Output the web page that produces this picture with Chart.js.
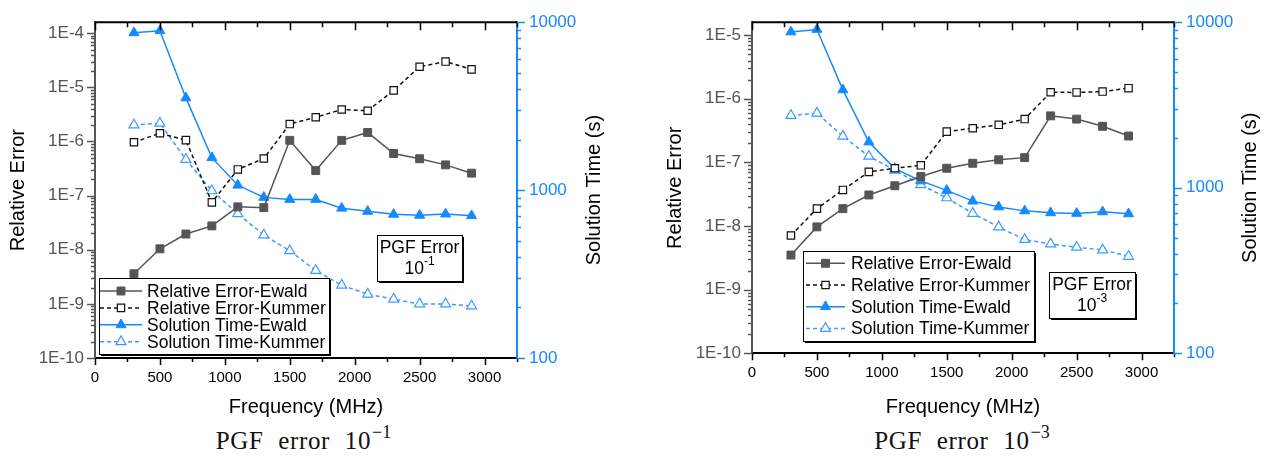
<!DOCTYPE html>
<html>
<head>
<meta charset="utf-8">
<script src="https://cdn.jsdelivr.net/npm/chart.js@4.4.1/dist/chart.umd.min.js"></script>
<style>
  body { margin: 0; background: #fff; width: 1264px; height: 462px; overflow: hidden; position: relative; }
  canvas { position: absolute; top: 0; }
  .cap { position: absolute; top: 425px; text-align: center; font-family: "Liberation Serif", serif; font-size: 25px; line-height: 1; color: #111; letter-spacing: 0.6px; word-spacing: 8px; }
  .cap sup { font-size: 18px; position: relative; top: -2px; margin-left: 1px; letter-spacing: 0; }
</style>
</head>
<body>
<canvas id="c1" width="632" height="420" style="left:0"></canvas>
<canvas id="c2" width="632" height="420" style="left:632px"></canvas>
<div class="cap" style="left:0;width:607px">PGF error 10<sup>−1</sup></div>
<div class="cap" style="left:672px;width:580px">PGF error 10<sup>−3</sup></div>
<script>
var freq = [300, 500, 700, 900, 1100, 1300, 1500, 1700, 1900, 2100, 2300, 2500, 2700, 2900];
var xTicks = [0, 500, 1000, 1500, 2000, 2500, 3000];

// PGF error 1e-1
var reEwald1  = [3.6e-9, 1.04e-8, 1.95e-8, 2.76e-8, 6.2e-8, 6.0e-8, 1.05e-6, 2.9e-7, 1.05e-6, 1.47e-6, 6.0e-7, 4.8e-7, 3.7e-7, 2.6e-7];
var reKummer1 = [9.7e-7, 1.42e-6, 1.06e-6, 7.5e-8, 3.05e-7, 4.85e-7, 2.1e-6, 2.8e-6, 3.9e-6, 3.7e-6, 8.8e-6, 2.4e-5, 3.0e-5, 2.15e-5];
var stEwald1  = [8650, 8900, 3540, 1560, 1070, 905, 880, 880, 780, 747, 717, 708, 720, 704];
var stKummer1 = [2440, 2500, 1520, 990, 723, 540, 435, 332, 271, 240, 224, 210, 210, 204];

// PGF error 1e-3
var reEwald3  = [3.5e-9, 9.7e-9, 1.88e-8, 3.08e-8, 4.3e-8, 6.0e-8, 8.1e-8, 9.7e-8, 1.1e-7, 1.19e-7, 5.4e-7, 4.8e-7, 3.7e-7, 2.6e-7];
var reKummer3 = [7.1e-9, 1.88e-8, 3.7e-8, 7.1e-8, 8.1e-8, 9.0e-8, 3.05e-7, 3.45e-7, 3.9e-7, 4.8e-7, 1.27e-6, 1.26e-6, 1.3e-6, 1.47e-6];
var stEwald3  = [8730, 9040, 3900, 1890, 1306, 1100, 964, 830, 766, 725, 706, 700, 715, 696];
var stKummer3 = [2730, 2820, 2050, 1550, 1277, 1042, 869, 700, 579, 487, 457, 437, 421, 385];

var labels = ['Relative Error-Ewald', 'Relative Error-Kummer', 'Solution Time-Ewald', 'Solution Time-Kummer'];

var FONT = '"Liberation Sans", Arial, sans-serif';
var GRAY = '#555555';
var BLUE = '#1589ff';
var LBLUE = '#3d9bff';

Chart.defaults.font.family = FONT;

var pts = function(vals) {
  return freq.map(function(f, i) { return {x: f, y: vals[i]}; });
};

var drawMarker = function(ctx, style, x, y, r, fill, stroke, lw) {
  ctx.beginPath();
  if (style === 'rect') {
    var s = r * Math.SQRT2;
    ctx.rect(x - s / 2, y - s / 2, s, s);
  } else {
    for (var k = 0; k < 3; k++) {
      var ang = k * 2 * Math.PI / 3;
      var px = x + Math.sin(ang) * r, py = y - Math.cos(ang) * r;
      if (k) ctx.lineTo(px, py); else ctx.moveTo(px, py);
    }
    ctx.closePath();
  }
  ctx.fillStyle = fill;
  ctx.fill();
  ctx.lineWidth = lw;
  ctx.strokeStyle = stroke;
  ctx.stroke();
};

var shadowBox = function(ctx, x, y, w, h) {
  ctx.fillStyle = '#000';
  ctx.fillRect(x + 2, y + 2, w, h);
  ctx.fillStyle = '#fff';
  ctx.fillRect(x, y, w, h);
  ctx.lineWidth = 1;
  ctx.strokeStyle = '#000';
  ctx.strokeRect(x + 0.5, y + 0.5, w, h);
};

var decor = {
  id: 'decor',
  afterDraw: function(chart, args, o) {
    var ctx = chart.ctx, a = chart.chartArea;
    var xs = chart.scales.x, yl = chart.scales.y, yr = chart.scales.y1;
    ctx.save();

    // top frame line
    ctx.strokeStyle = '#000';
    ctx.lineWidth = 2;
    ctx.beginPath();
    ctx.moveTo(a.left, a.top);
    ctx.lineTo(a.right, a.top);
    ctx.stroke();

    // x ticks, bottom outward and top inward
    ctx.lineWidth = 1.5;
    for (var v = 0; v <= 3250; v += 250) {
      var px = Math.round(xs.getPixelForValue(v)) + 0.5;
      var len = v % 500 === 0 ? 7 : 4;
      ctx.beginPath();
      ctx.moveTo(px, a.bottom);
      ctx.lineTo(px, a.bottom + len);
      ctx.moveTo(px, a.top);
      ctx.lineTo(px, a.top + len + 1);
      ctx.stroke();
    }

    // log ticks
    var logTicks = function(scale, x, dir, color) {
      ctx.strokeStyle = color;
      var e0 = Math.floor(Math.log10(scale.min)), e1 = Math.ceil(Math.log10(scale.max));
      for (var e = e0; e <= e1; e++) {
        for (var m = 1; m <= 9; m++) {
          var val = m * Math.pow(10, e);
          if (val < scale.min * 0.999 || val > scale.max * 1.001) continue;
          var py = Math.round(scale.getPixelForValue(val)) + 0.5;
          ctx.beginPath();
          ctx.moveTo(x, py);
          ctx.lineTo(x + dir * (m === 1 ? 8 : 4), py);
          ctx.stroke();
        }
      }
    };
    logTicks(yl, a.left, -1, GRAY);
    logTicks(yr, a.right, 1, BLUE);

    // vertical axis titles
    ctx.fillStyle = '#000';
    ctx.font = '20px ' + FONT;
    ctx.textAlign = 'center';
    ctx.textBaseline = 'middle';
    var cy = (a.top + a.bottom) / 2;
    [[o.titleL, 'Relative Error'], [o.titleR, 'Solution Time (s)']].forEach(function(t) {
      ctx.save();
      ctx.translate(t[0], cy);
      ctx.rotate(-Math.PI / 2);
      ctx.fillText(t[1], 0, 0);
      ctx.restore();
    });

    // legend
    var L = o.legend;
    shadowBox(ctx, L.x, L.y, L.w, L.h);
    ctx.font = '17.5px ' + FONT;
    ctx.textAlign = 'left';
    chart.data.datasets.forEach(function(ds, i) {
      var y = L.rowY + i * L.rowH;
      ctx.strokeStyle = ds.borderColor;
      ctx.lineWidth = ds.borderWidth;
      ctx.setLineDash(ds.borderDash || []);
      ctx.beginPath();
      ctx.moveTo(L.x0, y);
      ctx.lineTo(L.x1, y);
      ctx.stroke();
      ctx.setLineDash([]);
      drawMarker(ctx, ds.pointStyle, (L.x0 + L.x1) / 2, y, ds.pointRadius, ds.pointBackgroundColor, ds.pointBorderColor, ds.pointBorderWidth);
      ctx.fillStyle = '#000';
      ctx.fillText(ds.label, L.tx, y + 1);
    });

    // PGF error note
    var P = o.pgf;
    shadowBox(ctx, P.x, P.y, P.w, P.h);
    ctx.fillStyle = '#000';
    ctx.textAlign = 'center';
    ctx.font = '17.5px ' + FONT;
    ctx.fillText('PGF Error', P.x + P.w / 2, P.y + 13.5);
    var w10 = ctx.measureText('10').width;
    ctx.font = '12px ' + FONT;
    var wExp = ctx.measureText(P.exp).width;
    var sx = P.x + P.w / 2 - (w10 + wExp) / 2;
    ctx.textAlign = 'left';
    ctx.font = '17.5px ' + FONT;
    ctx.fillText('10', sx, P.y + 34);
    ctx.font = '12px ' + FONT;
    ctx.fillText(P.exp, sx + w10, P.y + 27);

    ctx.restore();
  }
};

var makeChart = function(id, cfg) {
  var W = 632, H = 420, p = cfg.plot;
  var sets = [
    {label: labels[0], data: pts(cfg.re), yAxisID: 'y', borderColor: GRAY, borderWidth: 1.5,
     pointStyle: 'rect', pointRadius: 5.6, pointBackgroundColor: GRAY, pointBorderColor: GRAY, pointBorderWidth: 1},
    {label: labels[1], data: pts(cfg.rk), yAxisID: 'y', borderColor: '#111', borderWidth: 1.5, borderDash: [4, 3],
     pointStyle: 'rect', pointRadius: 5.2, pointBackgroundColor: '#fff', pointBorderColor: '#111', pointBorderWidth: 1.2},
    {label: labels[2], data: pts(cfg.se), yAxisID: 'y1', borderColor: BLUE, borderWidth: 1.5,
     pointStyle: 'triangle', pointRadius: 5.8, pointBackgroundColor: BLUE, pointBorderColor: BLUE, pointBorderWidth: 1},
    {label: labels[3], data: pts(cfg.sk), yAxisID: 'y1', borderColor: LBLUE, borderWidth: 1.5, borderDash: [4, 3],
     pointStyle: 'triangle', pointRadius: 5.8, pointBackgroundColor: '#fff', pointBorderColor: LBLUE, pointBorderWidth: 1.2}
  ];

  return new Chart(document.getElementById(id).getContext('2d'), {
    type: 'line',
    data: {datasets: sets},
    plugins: [decor],
    options: {
      responsive: false,
      animation: false,
      devicePixelRatio: 1,
      layout: {padding: {top: p.t, left: 0, right: 0, bottom: 0}},
      elements: {line: {tension: 0}},
      plugins: {
        legend: {display: false},
        tooltip: {enabled: false},
        decor: {titleL: cfg.titleL, titleR: cfg.titleR, legend: cfg.legend, pgf: cfg.pgf}
      },
      scales: {
        x: {
          type: 'linear', min: 0, max: 3250,
          afterBuildTicks: function(s) { s.ticks = xTicks.map(function(v) { return {value: v}; }); },
          afterFit: function(s) { s.height = H - p.b; },
          ticks: {color: '#000', font: {size: 15}, padding: 11, maxRotation: 0, autoSkip: false,
                  callback: function(v) { return String(v); }},
          grid: {display: false, drawTicks: false},
          border: {display: true, color: '#000', width: 2},
          title: {display: true, text: 'Frequency (MHz)', color: '#000', font: {size: 20}, padding: {top: 0, bottom: 1}}
        },
        y: {
          type: 'logarithmic', position: 'left', min: 1e-10, max: cfg.yMax,
          afterBuildTicks: function(s) {
            var t = [];
            for (var e = -10; Math.pow(10, e) <= s.max; e++) t.push({value: Math.pow(10, e)});
            s.ticks = t;
          },
          afterFit: function(s) { s.width = p.l; },
          ticks: {color: GRAY, font: {size: 17}, padding: 11,
                  callback: function(v) { return '1E' + Math.round(Math.log10(v)); }},
          grid: {display: false, drawTicks: false},
          border: {display: true, color: GRAY, width: 2}
        },
        y1: {
          type: 'logarithmic', position: 'right', min: 100, max: 10000,
          afterBuildTicks: function(s) { s.ticks = [{value: 100}, {value: 1000}, {value: 10000}]; },
          afterFit: function(s) { s.width = W - p.r; },
          ticks: {color: BLUE, font: {size: 17}, padding: 12,
                  callback: function(v) { return String(v); }},
          grid: {display: false, drawTicks: false},
          border: {display: true, color: BLUE, width: 2}
        }
      }
    }
  });
};

makeChart('c1', {
  re: reEwald1, rk: reKummer1, se: stEwald1, sk: stKummer1,
  plot: {l: 95, r: 517, t: 17.5, b: 358},
  yMax: 1.6e-4,
  titleL: 18, titleR: 594,
  legend: {x: 99, y: 278, w: 230, h: 76, rowY: 291, rowH: 16.9, x0: 100, x1: 142, tx: 147},
  pgf: {x: 377, y: 235, w: 85, h: 46, exp: '-1'}
});

makeChart('c2', {
  re: reEwald3, rk: reKummer3, se: stEwald3, sk: stKummer3,
  plot: {l: 120, r: 542, t: 13.5, b: 353.3},
  yMax: 1.6e-5,
  titleL: 43, titleR: 618,
  legend: {x: 171, y: 251, w: 231, h: 90, rowY: 263.3, rowH: 21.7, x0: 174, x1: 213, tx: 219},
  pgf: {x: 417, y: 272, w: 86, h: 46, exp: '-3'}
});
</script>
</body>
</html>
